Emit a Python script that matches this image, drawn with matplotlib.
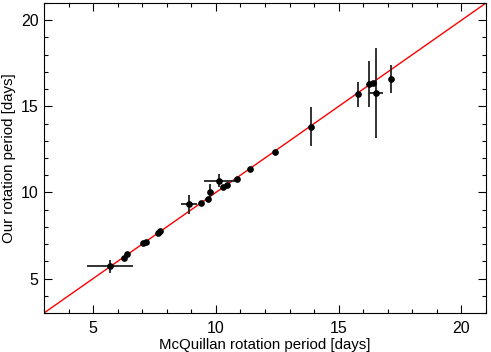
import matplotlib
matplotlib.use("Agg")
import matplotlib.pyplot as plt
from matplotlib.ticker import MultipleLocator

plt.rcParams['font.family'] = ['Liberation Sans', 'DejaVu Sans']

mcq = [5.69, 6.25, 6.40, 7.05, 7.16, 7.64, 7.73, 8.90, 9.41, 9.67, 9.76,
       10.13, 10.27, 10.46, 10.84, 11.38, 12.39, 13.89, 15.78, 16.25, 16.39,
       16.52, 17.12]
ours = [5.72, 6.22, 6.40, 7.09, 7.13, 7.63, 7.77, 9.30, 9.36, 9.61, 10.02,
        10.68, 10.29, 10.45, 10.80, 11.34, 12.33, 13.82, 15.70, 16.30, 16.35,
        15.77, 16.57]
mcq_err = [0.94, 0, 0, 0, 0, 0, 0, 0.33, 0, 0, 0,
           0.63, 0, 0, 0, 0, 0, 0, 0, 0, 0,
           0.29, 0]
ours_err = [0.38, 0, 0, 0, 0, 0, 0, 0.55, 0, 0, 0.48,
            0.37, 0, 0, 0, 0, 0, 1.15, 0.74, 1.33, 0,
            2.59, 0.82]
line = [3, 21]

fig = plt.figure(figsize=(4.91, 3.52), dpi=100)
ax = fig.add_axes([44/491, 1-313/352, 442/491, 310/352])

ax.plot(line, line, color='red', lw=1.0, zorder=1)
ax.errorbar(mcq, ours, xerr=mcq_err, yerr=ours_err, fmt='o', color='black',
            ecolor='#222222', elinewidth=1.3, capsize=0, markersize=3.8, zorder=2)

ax.set_xlim(3, 21)
ax.set_ylim(3, 21)
ax.xaxis.set_major_locator(MultipleLocator(5))
ax.xaxis.set_minor_locator(MultipleLocator(1))
ax.yaxis.set_major_locator(MultipleLocator(5))
ax.yaxis.set_minor_locator(MultipleLocator(1))
ax.tick_params(which='both', direction='in', top=True, right=True, labelsize=11.5)
ax.tick_params(which='major', length=5.5, width=0.8)
ax.tick_params(axis='x', which='major', pad=6)
ax.tick_params(axis='y', which='major', pad=4)
ax.tick_params(which='minor', length=2.8, width=0.8)
for s in ax.spines.values():
    s.set_linewidth(0.8)

ax.set_xlabel('McQuillan rotation period [days]', fontsize=10.8, labelpad=1)
ax.set_ylabel('Our rotation period [days]', fontsize=10.8)
ax.yaxis.set_label_coords(-0.064, 0.5)

fig.savefig('out.png', dpi=100)
